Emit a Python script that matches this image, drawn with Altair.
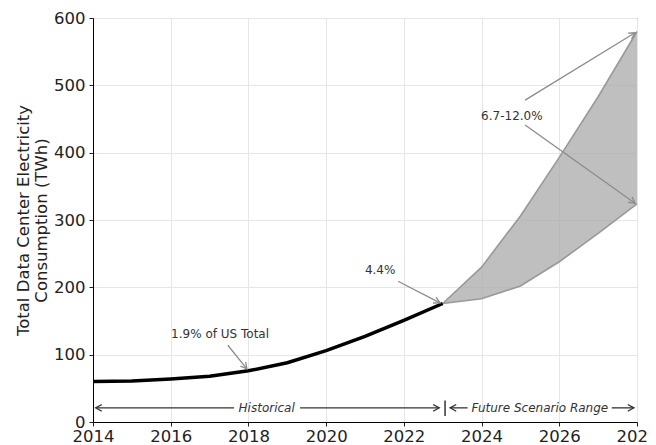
import math
import altair as alt
import pandas as pd

# ---------------- data ----------------
hist_years = [2014, 2015, 2016, 2017, 2018, 2019, 2020, 2021, 2022, 2023]
hist_twh = [60, 61, 64, 68, 76, 88, 106, 127, 151, 176]

proj_years = [2023, 2024, 2025, 2026, 2027, 2028]
proj_low = [176, 183, 202, 238, 280, 324]
proj_high = [176, 230, 306, 393, 483, 580]

ann_text = ["1.9% of US Total", "4.4%", "6.7-12.0%"]
ann_x = [2017.27, 2021.39, 2024.78]
ann_y = [131, 226, 455]

arrow_x1 = [2017.47, 2021.85, 2025.12, 2025.12]
arrow_y1 = [114, 209, 478, 441]
arrow_x2 = [2017.96, 2022.93, 2027.95, 2027.95]
arrow_y2 = [79, 177, 578, 325]

range_labels = ["Historical", "Future Scenario Range"]
range_label_x = [2018.47, 2025.5]
range_y = 21
seg_x1 = [2014.07, 2019.33, 2023.19, 2027.35]
seg_x2 = [2017.63, 2022.91, 2023.64, 2027.92]
head_x = [2014.07, 2022.91, 2023.19, 2027.92]
head_dir = [180, 0, 180, 0]
divider_x = 2023.06
divider_y = [9, 32]

x_ticks = list(range(2014, 2029))
y_ticks = [0, 100, 200, 300, 400, 500, 600]

W, H = 544, 404
FONT = "DejaVu Sans"

sx = W / 14.0
sy = H / 600.0

xs = alt.Scale(domain=[2014, 2028], nice=False, zero=False)
ys = alt.Scale(domain=[0, 600], nice=False)

x_axis = alt.Axis(
    values=x_ticks,
    labelExpr="datum.value % 2 == 0 ? format(datum.value, 'd') : ''",
    title=None,
    grid=True,
    tickSize=4,
    labelPadding=2,
    labelFlush=False,
    labelOverlap=False,
)
y_axis = alt.Axis(
    values=y_ticks,
    title=["Total Data Center Electricity", "Consumption (TWh)"],
    grid=True,
    tickSize=4,
    labelPadding=4,
    titlePadding=4,
)

hist_df = pd.DataFrame({"year": hist_years, "twh": hist_twh})
proj_df = pd.DataFrame({"year": proj_years, "low": proj_low, "high": proj_high})

area = alt.Chart(proj_df).mark_area(color="#a9a9a9", opacity=0.75).encode(
    x=alt.X("year:Q", scale=xs, axis=x_axis),
    y=alt.Y("high:Q", scale=ys, axis=y_axis),
    y2="low:Q",
)
upper = alt.Chart(proj_df).mark_line(color="#999999", strokeWidth=1.6).encode(
    x=alt.X("year:Q", scale=xs), y=alt.Y("high:Q", scale=ys)
)
lower = alt.Chart(proj_df).mark_line(color="#999999", strokeWidth=1.6).encode(
    x=alt.X("year:Q", scale=xs), y=alt.Y("low:Q", scale=ys)
)
hist = alt.Chart(hist_df).mark_line(color="black", strokeWidth=3.5).encode(
    x=alt.X("year:Q", scale=xs), y=alt.Y("twh:Q", scale=ys)
)

# annotation arrows
def ang(x1, y1, x2, y2):
    a = math.degrees(math.atan2(-(y2 - y1) * sy, (x2 - x1) * sx))
    return (a + 360) % 360

arr_df = pd.DataFrame({"x1": arrow_x1, "y1": arrow_y1, "x2": arrow_x2, "y2": arrow_y2})
arr_df["angle"] = [ang(a, b, c, d) for a, b, c, d in zip(arrow_x1, arrow_y1, arrow_x2, arrow_y2)]

arrow_rules = alt.Chart(arr_df).mark_rule(color="#8c8c8c", strokeWidth=1.3).encode(
    x=alt.X("x1:Q", scale=xs), y=alt.Y("y1:Q", scale=ys), x2="x2:Q", y2="y2:Q"
)
CHEV = "M-1,-0.55L0,0L-1,0.55"
arrow_heads = alt.Chart(arr_df).mark_point(
    shape=CHEV, filled=False, color="#8c8c8c", strokeWidth=1.3, size=150, opacity=1
).encode(
    x=alt.X("x2:Q", scale=xs), y=alt.Y("y2:Q", scale=ys),
    angle=alt.Angle("angle:Q", scale=None),
)

ann_df = pd.DataFrame({"t": ann_text, "x": ann_x, "y": ann_y})
ann = alt.Chart(ann_df).mark_text(
    font=FONT, fontSize=12, color="#333333", align="center", baseline="middle"
).encode(x=alt.X("x:Q", scale=xs), y=alt.Y("y:Q", scale=ys), text="t:N")

# bottom range arrows
seg_df = pd.DataFrame({"x1": seg_x1, "x2": seg_x2, "y": [range_y] * len(seg_x1)})
segs = alt.Chart(seg_df).mark_rule(color="#333333", strokeWidth=1.3).encode(
    x=alt.X("x1:Q", scale=xs), x2="x2:Q", y=alt.Y("y:Q", scale=ys)
)
head_df = pd.DataFrame({"x": head_x, "y": [range_y] * len(head_x), "angle": head_dir})
heads = alt.Chart(head_df).mark_point(
    shape=CHEV, filled=False, color="#333333", strokeWidth=1.3, size=150, opacity=1
).encode(
    x=alt.X("x:Q", scale=xs), y=alt.Y("y:Q", scale=ys),
    angle=alt.Angle("angle:Q", scale=None),
)
div_df = pd.DataFrame({"x": [divider_x], "y1": [divider_y[0]], "y2": [divider_y[1]]})
divider = alt.Chart(div_df).mark_rule(color="#333333", strokeWidth=1.5).encode(
    x=alt.X("x:Q", scale=xs), y=alt.Y("y1:Q", scale=ys), y2="y2:Q"
)
rl_df = pd.DataFrame({"t": range_labels, "x": range_label_x, "y": [range_y] * 2})
range_text = alt.Chart(rl_df).mark_text(
    font=FONT, fontSize=12, fontStyle="italic", color="#333333",
    align="center", baseline="middle",
).encode(x=alt.X("x:Q", scale=xs), y=alt.Y("y:Q", scale=ys), text="t:N")

chart = alt.layer(
    area, upper, lower, hist, arrow_rules, arrow_heads, ann,
    segs, heads, divider, range_text,
).properties(
    width=W, height=H,
    autosize=alt.AutoSizeParams(type="none"),
    padding={"left": 85, "top": 10, "right": 11, "bottom": 23},
).configure_view(
    stroke="black", strokeWidth=1
).configure_axis(
    labelFont=FONT, titleFont=FONT, labelFontSize=16.5, titleFontSize=16.5,
    titleFontWeight="normal", labelColor="#222222", titleColor="#222222",
    gridColor="#e6e6e6", gridWidth=1, domainColor="black", domainWidth=1,
    tickColor="#222222", tickWidth=1,
)

chart.save("out.html", embed_options={"renderer": "svg", "actions": False})
